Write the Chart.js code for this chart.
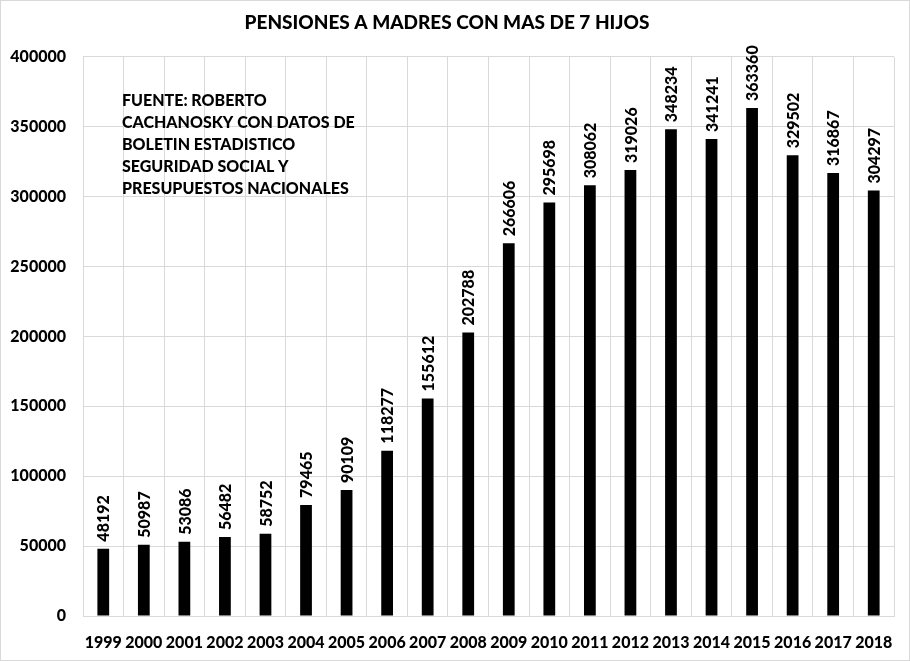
<!DOCTYPE html>
<html>
<head>
<meta charset="utf-8">
<script src="https://cdn.jsdelivr.net/npm/chart.js@4/dist/chart.umd.min.js"></script>
<style>
  html, body { margin: 0; padding: 0; background: #fff; }
  #wrap { width: 910px; height: 661px; }
</style>
</head>
<body>
<div id="wrap"><canvas id="pensionesChart"></canvas></div>
<script>
const years = ["1999", "2000", "2001", "2002", "2003", "2004", "2005", "2006", "2007", "2008",
  "2009", "2010", "2011", "2012", "2013", "2014", "2015", "2016", "2017", "2018"];
const pensiones = [48192, 50987, 53086, 56482, 58752, 79465, 90109, 118277, 155612, 202788,
  266606, 295698, 308062, 319026, 348234, 341241, 363360, 329502, 316867, 304297];
const yTicks = [0, 50000, 100000, 150000, 200000, 250000, 300000, 350000, 400000];
const sourceNote = [
  "FUENTE: ROBERTO",
  "CACHANOSKY CON DATOS DE",
  "BOLETIN ESTADISTICO",
  "SEGURIDAD SOCIAL Y",
  "PRESUPUESTOS NACIONALES",
];

const FONT = "Lato, 'Open Sans', sans-serif";

// value labels above each bar, rotated
const barLabels = {
  id: "barLabels",
  afterDatasetsDraw(chart) {
    const ctx = chart.ctx;
    const meta = chart.getDatasetMeta(0);
    ctx.save();
    ctx.fillStyle = "#000";
    ctx.font = "900 16px " + FONT;
    ctx.textAlign = "left";
    ctx.textBaseline = "middle";
    meta.data.forEach((bar, i) => {
      ctx.save();
      ctx.translate(bar.x, bar.y - 7);
      ctx.rotate(-Math.PI / 2);
      ctx.fillText(String(pensiones[i]), 0, 1);
      ctx.restore();
    });
    ctx.restore();
  },
};

// source note and outer frame
const extras = {
  id: "extras",
  afterDraw(chart) {
    const ctx = chart.ctx;
    ctx.save();
    ctx.fillStyle = "#000";
    ctx.font = "900 16px " + FONT;
    ctx.textAlign = "left";
    ctx.textBaseline = "middle";
    sourceNote.forEach((line, i) => ctx.fillText(line, 122, 101 + i * 22));
    ctx.strokeStyle = "#d9d9d9";
    ctx.lineWidth = 1;
    ctx.strokeRect(0.5, 0.5, chart.width - 1, chart.height - 1);
    ctx.restore();
  },
};

new Chart(document.getElementById("pensionesChart"), {
  type: "bar",
  data: {
    labels: years,
    datasets: [
      {
        data: pensiones,
        backgroundColor: "#000",
        borderWidth: 0,
        barPercentage: 0.29,
        categoryPercentage: 1,
      },
    ],
  },
  options: {
    responsive: true,
    maintainAspectRatio: false,
    animation: false,
    layout: { padding: { top: 0, right: 16, left: 0, bottom: 0 } },
    plugins: {
      legend: { display: false },
      tooltip: { enabled: false },
      title: {
        display: true,
        text: "PENSIONES A MADRES CON MAS DE 7 HIJOS",
        color: "#000",
        font: { family: FONT, size: 19, weight: "900" },
        padding: { top: 11, bottom: 23 },
      },
    },
    scales: {
      x: {
        grid: { color: "#d9d9d9", drawTicks: false, offset: true },
        border: { color: "#d9d9d9" },
        ticks: {
          color: "#000",
          font: { family: FONT, size: 16, weight: "900" },
          padding: 17,
          maxRotation: 0,
          autoSkip: false,
        },
        afterFit(scale) { scale.height = 45; },
      },
      y: {
        min: 0,
        max: 400000,
        grid: { color: "#d9d9d9", drawTicks: false },
        border: { color: "#d9d9d9" },
        afterBuildTicks(scale) { scale.ticks = yTicks.map((v) => ({ value: v })); },
        ticks: {
          color: "#000",
          font: { family: FONT, size: 16, weight: "900" },
          padding: 17,
          callback: (v) => String(v),
        },
        afterFit(scale) { scale.width = 83; },
      },
    },
  },
  plugins: [barLabels, extras],
});
</script>
</body>
</html>
